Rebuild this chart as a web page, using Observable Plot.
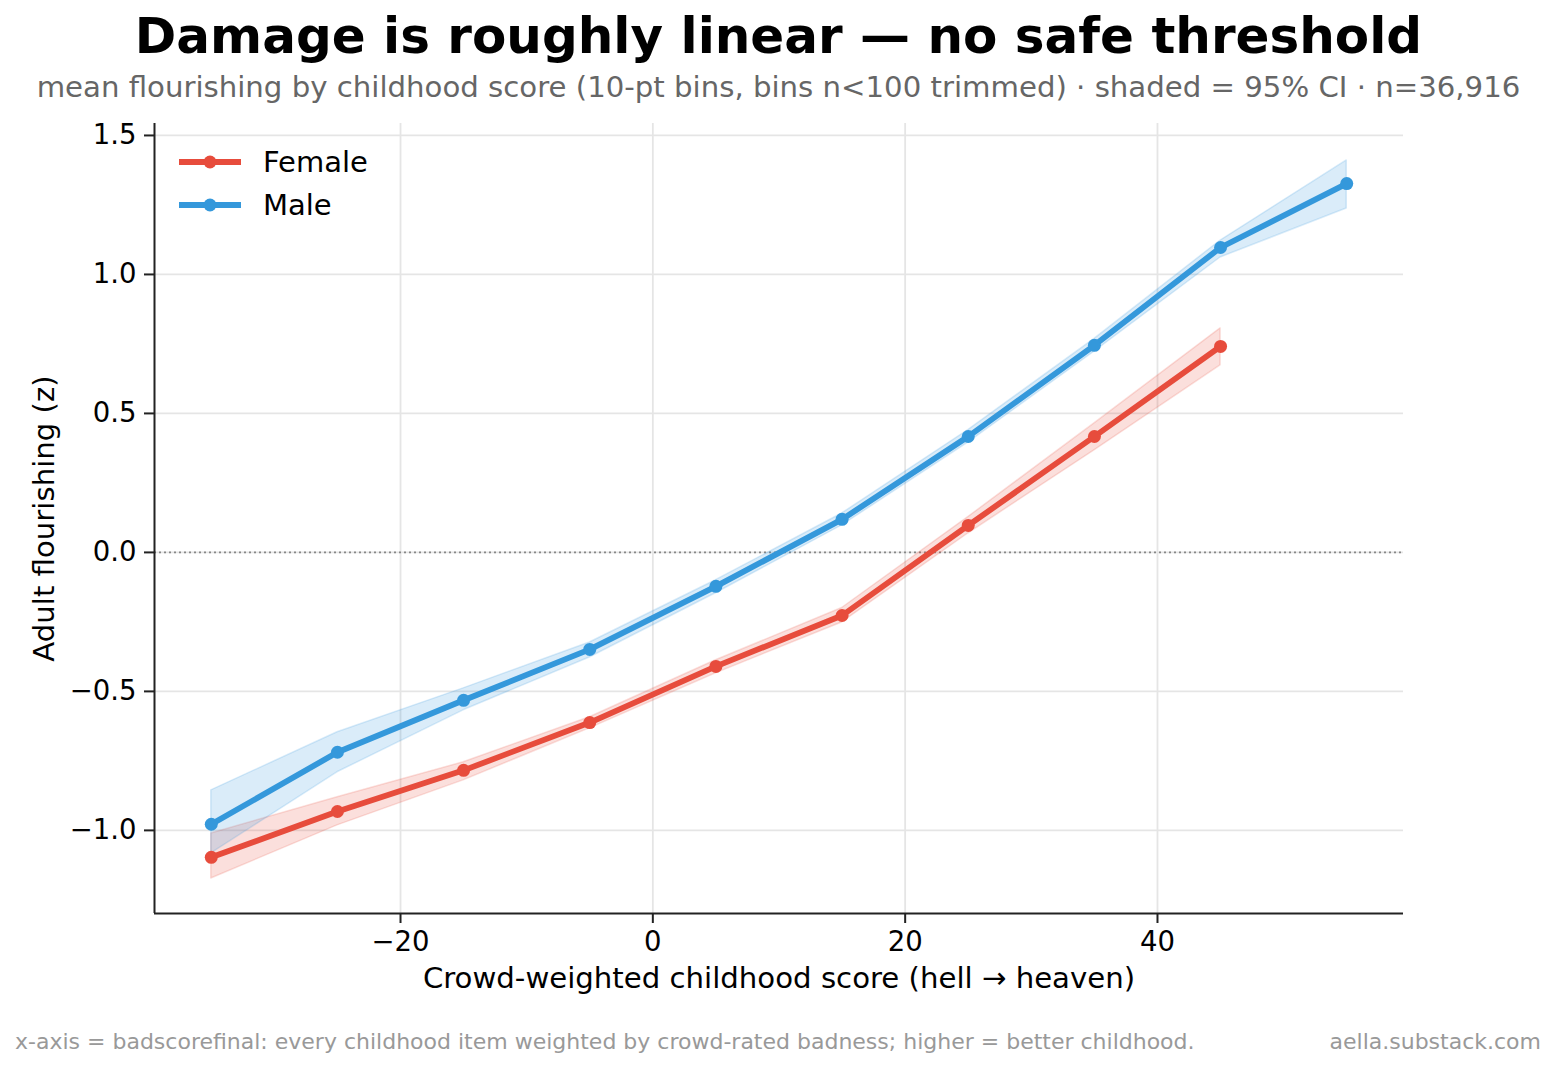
<!DOCTYPE html>
<html>
<head>
<meta charset="utf-8">
<script src="https://cdn.jsdelivr.net/npm/d3@7"></script>
<script src="https://cdn.jsdelivr.net/npm/@observablehq/plot@0.6"></script>
<style>
  html, body { margin: 0; padding: 0; background: #fff; }
  body { width: 1557px; height: 1069px; position: relative; overflow: hidden; font-family: "DejaVu Sans", sans-serif; }
  .abs { position: absolute; white-space: nowrap; }
  #title { left: 0; width: 1557px; text-align: center; top: 11px; font-size: 50px; line-height: 50px; font-weight: bold; color: #000; }
  #subtitle { left: 0; width: 1557px; text-align: center; top: 72px; font-size: 29.2px; line-height: 30px; color: #666; }
  #chart { left: 0; top: 105px; }
  #footL { left: 15px; top: 1031px; font-size: 22px; line-height: 22px; color: #999; }
  #footR { right: 16px; top: 1031px; font-size: 22px; line-height: 22px; color: #999; }
  #legend { left: 179px; top: 140px; font-size: 29px; color: #000; }
  .lg { display: flex; align-items: center; height: 43px; }
  .lg svg { margin-right: 22px; }
</style>
</head>
<body>
<div id="title" class="abs">Damage is roughly linear — no safe threshold</div>
<div id="subtitle" class="abs">mean flourishing by childhood score (10-pt bins, bins n&lt;100 trimmed) · shaded = 95% CI · n=36,916</div>
<div id="chart" class="abs"></div>
<div id="legend" class="abs"></div>
<div id="footL" class="abs">x-axis = badscorefinal: every childhood item weighted by crowd-rated badness; higher = better childhood.</div>
<div id="footR" class="abs">aella.substack.com</div>
<script>
// ---- data ----
const binsFemale = [-35, -25, -15, -5, 5, 15, 25, 35, 45];
const meanFemale = [-1.097, -0.932, -0.784, -0.612, -0.410, -0.227, 0.097, 0.417, 0.741];
const loFemale   = [-1.173, -0.982, -0.820, -0.633, -0.435, -0.252, 0.068, 0.367, 0.673];
const hiFemale   = [-1.011, -0.881, -0.755, -0.593, -0.388, -0.200, 0.127, 0.464, 0.806];

const binsMale = [-35, -25, -15, -5, 5, 15, 25, 35, 45, 55];
const meanMale = [-0.978, -0.719, -0.532, -0.349, -0.122, 0.119, 0.417, 0.745, 1.097, 1.327];
const loMale   = [-1.083, -0.791, -0.568, -0.378, -0.147, 0.097, 0.395, 0.722, 1.061, 1.237];
const hiMale   = [-0.856, -0.647, -0.489, -0.324, -0.100, 0.140, 0.440, 0.768, 1.122, 1.410];

const seriesNames = ["Female", "Male"];
const seriesColors = ["#e74c3c", "#3498db"];
const xTicks = [-20, 0, 20, 40];
const yTicks = [-1.0, -0.5, 0.0, 0.5, 1.0, 1.5];
const xDomain = [-39.5, 59.5];
const yDomain = [-1.299, 1.543];
const xLabel = "Crowd-weighted childhood score (hell → heaven)";
const yLabel = "Adult flourishing (z)";

// ---- build table ----
const rows = [];
binsFemale.forEach((b, i) => rows.push({sex: "Female", x: b, y: meanFemale[i], lo: loFemale[i], hi: hiFemale[i]}));
binsMale.forEach((b, i) => rows.push({sex: "Male", x: b, y: meanMale[i], lo: loMale[i], hi: hiMale[i]}));

const fmtMinus = s => s.replace("-", "\u2212");
const color = {domain: seriesNames, range: seriesColors};
const font = "DejaVu Sans";

const plot = Plot.plot({
  width: 1557,
  height: 900,
  marginLeft: 154,
  marginRight: 154,
  marginTop: 18,
  marginBottom: 92,
  style: {fontFamily: font, fontSize: "27.5px", color: "#000", background: "transparent", overflow: "visible"},
  x: {domain: xDomain, ticks: xTicks},
  y: {domain: yDomain, ticks: yTicks},
  color,
  marks: [
    Plot.gridX(xTicks, {stroke: "#e5e5e5", strokeOpacity: 1, strokeWidth: 1.8}),
    Plot.gridY(yTicks, {stroke: "#e5e5e5", strokeOpacity: 1, strokeWidth: 1.8}),
    Plot.ruleY([0], {stroke: "#888", strokeWidth: 1.6, strokeDasharray: "2,3"}),
    Plot.areaY(rows, {x: "x", y1: "lo", y2: "hi", z: "sex", fill: "sex", fillOpacity: 0.18, stroke: "sex", strokeOpacity: 0.18, strokeWidth: 1.5}),
    Plot.lineY(rows, {x: "x", y: "y", z: "sex", stroke: "sex", strokeWidth: 5.8}),
    Plot.dot(rows, {x: "x", y: "y", fill: "sex", r: 6.5}),
    Plot.ruleX([xDomain[0]], {y1: yDomain[0], y2: yDomain[1], stroke: "#222", strokeWidth: 2}),
    Plot.ruleY([yDomain[0]], {x1: xDomain[0], x2: xDomain[1], stroke: "#222", strokeWidth: 2}),
    Plot.axisX(xTicks, {tickSize: 10, tickPadding: 8, tickFormat: d => fmtMinus(String(d)), label: null, stroke: "#222", strokeWidth: 2, fontSize: 27.5}),
    Plot.axisY(yTicks, {tickSize: 10, tickPadding: 8, tickFormat: d => fmtMinus(d.toFixed(1)), label: null, stroke: "#222", strokeWidth: 2, fontSize: 27.5}),
    Plot.text([xLabel], {frameAnchor: "bottom", dy: 65, lineAnchor: "middle", textAnchor: "middle", fontSize: 29.2, fill: "#000"}),
    Plot.text([yLabel], {frameAnchor: "left", dx: -110, rotate: -90, lineAnchor: "middle", textAnchor: "middle", fontSize: 29.2, fill: "#000"})
  ]
});
document.getElementById("chart").appendChild(plot);

// ---- legend ----
const legend = document.getElementById("legend");
seriesNames.forEach((name, i) => {
  const row = document.createElement("div");
  row.className = "lg";
  const c = seriesColors[i];
  row.innerHTML = `<svg width="62" height="20"><line x1="0" y1="10" x2="62" y2="10" stroke="${c}" stroke-width="5.8"/><circle cx="31" cy="10" r="6.5" fill="${c}"/></svg><span>${name}</span>`;
  legend.appendChild(row);
});
</script>
</body>
</html>
